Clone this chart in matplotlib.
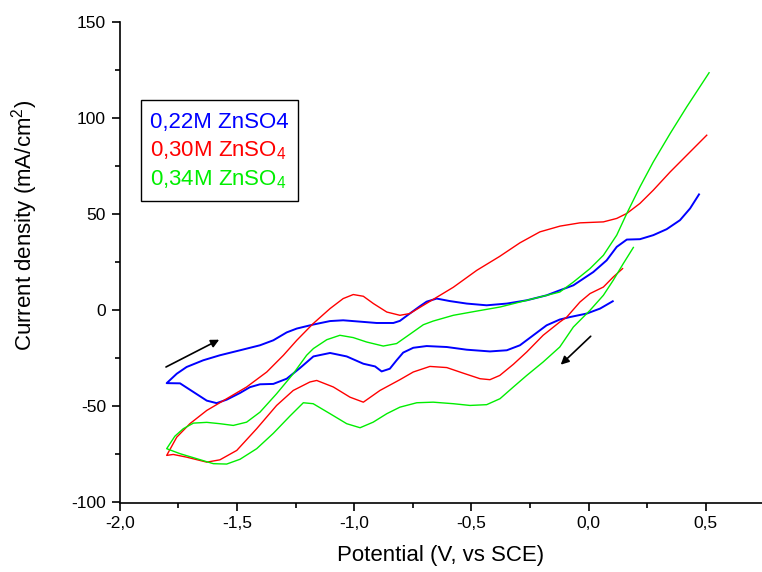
import matplotlib
matplotlib.use("Agg")
import matplotlib.pyplot as plt
from matplotlib.ticker import MultipleLocator, FuncFormatter
from matplotlib.patches import Rectangle

plt.rcParams['font.family'] = ['Liberation Sans', 'DejaVu Sans']
plt.rcParams['mathtext.fontset'] = 'custom'
plt.rcParams['mathtext.rm'] = 'Liberation Sans'
plt.rcParams['mathtext.it'] = 'Liberation Sans'

# ---- data: each curve is reverse scan (lower branch) followed by forward scan (upper branch)
blue_v = [0.103, 0.049, -0.008, -0.079, -0.123, -0.179, -0.236, -0.293, -0.349, -0.421, -0.520,
          -0.605, -0.691, -0.748, -0.791, -0.819, -0.848, -0.883, -0.911, -0.961, -1.032, -1.103,
          -1.174, -1.231, -1.288, -1.345, -1.402, -1.445, -1.487, -1.544, -1.587, -1.629, -1.686,
          -1.743, -1.800,
          -1.757, -1.715, -1.644, -1.573, -1.487, -1.402, -1.345, -1.288, -1.245, -1.174, -1.103,
          -1.047, -0.975, -0.904, -0.833, -0.805, -0.763, -0.720, -0.691, -0.648, -0.592, -0.520,
          -0.435, -0.349, -0.264, -0.179, -0.123, -0.065, 0.020, 0.077, 0.120, 0.163, 0.219,
          0.276, 0.333, 0.390, 0.433, 0.471]
blue_i = [4.7, 0.9, -1.7, -3.5, -4.8, -7.8, -13.0, -18.2, -20.8, -21.4, -20.5,
          -19.1, -18.6, -19.5, -22.0, -26.0, -30.4, -31.8, -29.2, -27.8, -24.0, -22.2,
          -24.0, -30.0, -35.6, -38.3, -38.5, -40.0, -43.0, -46.5, -48.3, -47.0, -42.5,
          -38.0, -37.9,
          -33.0, -29.5, -26.0, -23.4, -20.8, -18.2, -15.6, -11.5, -9.5, -7.4, -5.6,
          -5.2, -5.9, -6.6, -6.6, -5.5, -1.7, 2.1, 4.5, 6.1, 4.8, 3.5,
          2.6, 3.5, 5.2, 7.8, 10.4, 13.0, 19.9, 26.0, 33.0, 36.8, 37.0,
          39.1, 42.2, 46.9, 53.0, 60.3]

red_v = [0.145, 0.105, 0.063, 0.006, -0.037, -0.093, -0.123, -0.194, -0.264, -0.321, -0.379,
         -0.421, -0.463, -0.535, -0.605, -0.677, -0.748, -0.805, -0.890, -0.961, -1.018, -1.089,
         -1.160, -1.189, -1.260, -1.331, -1.416, -1.501, -1.573, -1.629, -1.715, -1.772, -1.800,
         -1.757, -1.701, -1.629, -1.544, -1.459, -1.373, -1.302, -1.245, -1.175, -1.103, -1.047,
         -1.004, -0.961, -0.918, -0.861, -0.805, -0.763, -0.705, -0.634, -0.577, -0.477, -0.380,
         -0.293, -0.208, -0.122, -0.037, 0.063, 0.120, 0.163, 0.219, 0.276, 0.348, 0.419, 0.504]
red_i = [21.7, 17.3, 12.1, 8.7, 4.3, -3.5, -6.1, -13.0, -21.7, -28.1, -33.9,
         -36.1, -35.6, -32.7, -29.8, -29.2, -32.1, -36.1, -41.7, -47.8, -45.2, -39.9,
         -36.5, -37.3, -41.7, -49.5, -61.6, -72.9, -77.8, -79.0, -76.4, -75.0, -75.5,
         -66.0, -59.0, -52.1, -46.0, -39.9, -32.1, -23.4, -15.6, -6.9, 0.9, 6.1,
         8.2, 7.3, 3.5, -0.9, -2.6, -1.7, 2.6, 7.8, 12.0, 20.8, 28.0,
         35.1, 40.8, 43.8, 45.5, 46.0, 47.8, 50.4, 55.6, 62.5, 72.0, 80.7, 91.1]

green_v = [0.191, 0.148, 0.105, 0.063, 0.006, -0.065, -0.123, -0.194, -0.264, -0.321, -0.378,
           -0.435, -0.506, -0.577, -0.663, -0.733, -0.805, -0.861, -0.919, -0.975, -1.032, -1.103,
           -1.175, -1.217, -1.274, -1.345, -1.416, -1.487, -1.544, -1.601, -1.672, -1.743, -1.800,
           -1.765, -1.729, -1.686, -1.629, -1.573, -1.516, -1.459, -1.402, -1.331, -1.260, -1.203,
           -1.174, -1.117, -1.061, -1.004, -0.947, -0.876, -0.819, -0.763, -0.705, -0.663, -0.577,
           -0.477, -0.378, -0.293, -0.208, -0.123, -0.065, 0.006, 0.063, 0.120, 0.163, 0.219,
           0.276, 0.348, 0.419, 0.514]
green_i = [32.7, 24.3, 15.6, 7.8, 0.0, -8.7, -19.1, -26.9, -33.9, -39.9, -46.0,
           -49.1, -49.5, -48.6, -47.8, -48.1, -50.4, -53.8, -58.2, -61.1, -59.0, -53.8,
           -48.6, -48.1, -55.0, -64.0, -72.0, -77.5, -80.0, -79.8, -77.2, -74.6, -72.0,
           -65.5, -61.6, -58.7, -58.3, -59.0, -59.9, -58.2, -53.0, -43.4, -33.0, -23.4,
           -19.9, -15.3, -13.0, -14.2, -16.5, -18.6, -17.3, -12.5, -7.5, -5.6, -2.6,
           -0.4, 1.7, 4.3, 6.9, 9.5, 14.7, 21.7, 28.6, 39.1, 50.4, 64.2,
           77.2, 92.0, 105.9, 123.6]

labels = ["0,22M ZnSO4", "0,30M ZnSO$_4$", "0,34M ZnSO$_4$"]
colors = ["#0000FF", "#FF0000", "#00EE00"]

# arrows (tail, head) in data units
arrow1 = ((-1.803, -29.5), (-1.576, -15.3))
arrow2 = ((0.009, -13.5), (-0.119, -28.3))

W, H = 762, 572
fig = plt.figure(figsize=(W / 100, H / 100), dpi=100)
left = 119.8 / W
bottom = (H - 502.5) / H
height = (502.5 - 22) / H
ax = fig.add_axes([left, bottom, 1 - left, height])

ax.plot(blue_v, blue_i, color=colors[0], lw=1.4, solid_joinstyle='round')
ax.plot(red_v, red_i, color=colors[1], lw=1.0, solid_joinstyle='round')
ax.plot(green_v, green_i, color=colors[2], lw=1.0, solid_joinstyle='round')

for tail, head in (arrow1, arrow2):
    ax.annotate("", xy=head, xytext=tail,
                arrowprops=dict(arrowstyle="-|>", color="black", lw=1.2,
                                mutation_scale=12, shrinkA=0, shrinkB=0))

ax.set_xlim(-2.0, -2.0 + (W - 119.8) / 234.4)
ax.set_ylim(-100, 150)

ax.spines['top'].set_visible(False)
ax.spines['right'].set_visible(False)
for s in ('left', 'bottom'):
    ax.spines[s].set_linewidth(1.2)

ax.xaxis.set_major_locator(MultipleLocator(0.5))
ax.xaxis.set_minor_locator(MultipleLocator(0.25))
ax.yaxis.set_major_locator(MultipleLocator(50))
ax.yaxis.set_minor_locator(MultipleLocator(25))
ax.xaxis.set_major_formatter(FuncFormatter(lambda v, p: f"{v:.1f}".replace('.', ',')))
ax.yaxis.set_major_formatter(FuncFormatter(lambda v, p: f"{int(round(v))}"))
ax.tick_params(which='major', direction='out', length=6, width=1.2, labelsize=12.5, pad=4)
ax.tick_params(which='minor', direction='out', length=3.5, width=1.2)

fig.text(441 / W, 1 - 555 / H, "Potential (V, vs SCE)", ha='center', va='center', fontsize=16)
fig.text(25 / W, 1 - 225 / H, "Current density (mA/cm$^2$)", ha='center', va='center',
         rotation=90, fontsize=16)

# legend box (text-only legend)
box = Rectangle((140.5 / W, 1 - 201 / H), (298 - 140.5) / W, (201 - 100) / H,
                transform=fig.transFigure, fill=False, edgecolor='black', lw=1.0)
fig.patches.append(box)
for k, (lab, col) in enumerate(zip(labels, colors)):
    fig.text(150 / W, 1 - (128.3 + 28.5 * k) / H, lab, color=col, fontsize=16,
             ha='left', va='baseline')

fig.savefig("out.png", dpi=100)
